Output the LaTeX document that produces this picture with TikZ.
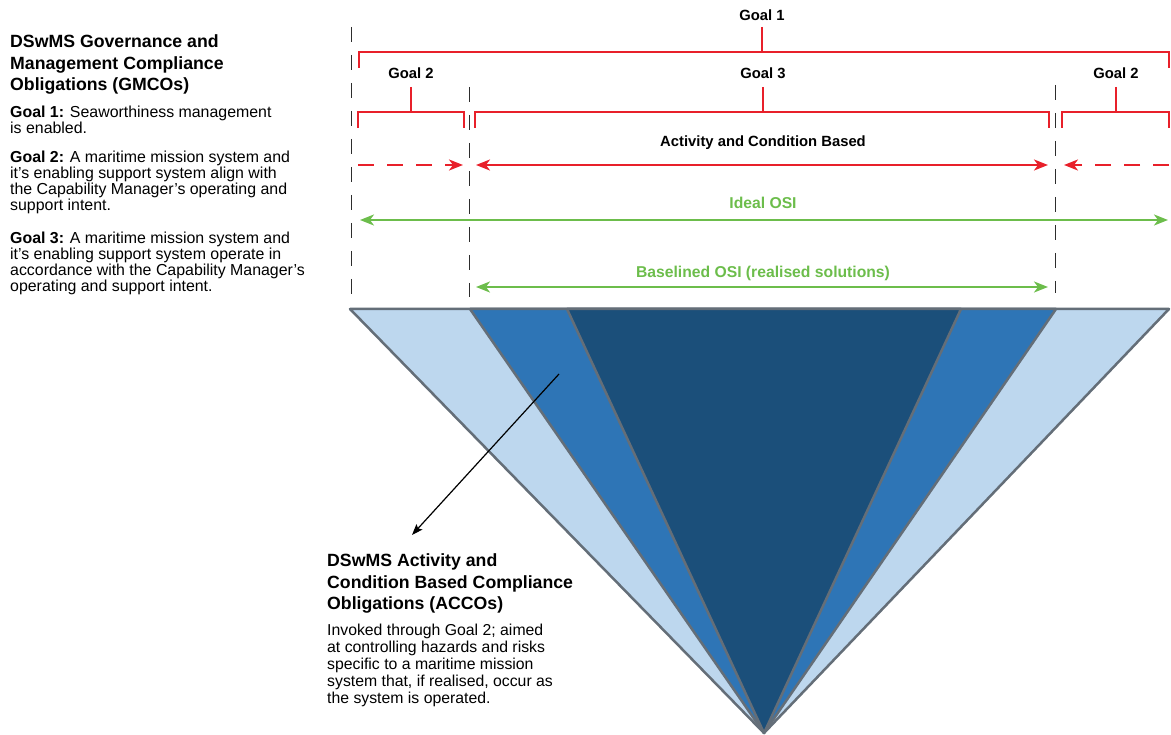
\documentclass[tikz,border=0pt]{standalone}
\usepackage{fontspec}
\setmainfont{Liberation Sans}
\usetikzlibrary{arrows.meta}

\definecolor{goalred}{RGB}{232,32,42}
\definecolor{osigreen}{RGB}{108,189,75}
\definecolor{lightblue}{RGB}{189,215,238}
\definecolor{midblue}{RGB}{46,117,182}
\definecolor{darkblue}{RGB}{27,79,122}
\definecolor{edgegray}{RGB}{100,110,120}
\definecolor{guidegray}{RGB}{45,45,45}

\tikzset{
  headtext/.style={font=\fontsize{17.7}{21.7}\selectfont\bfseries, align=left, anchor=north west, inner sep=0pt},
  bodytext/.style={font=\fontsize{15.9}{16}\selectfont, align=left, anchor=north west, inner sep=0pt},
  goallabel/.style={font=\fontsize{14.8}{16}\selectfont\bfseries, anchor=base, inner sep=0pt},
  osilabel/.style={font=\fontsize{15.7}{17}\selectfont\bfseries, text=osigreen, anchor=base, inner sep=0pt},
  bracket/.style={draw=goalred, line width=2pt},
  redline/.style={draw=goalred, line width=2pt},
  greenline/.style={draw=osigreen, line width=2pt},
  guide/.style={draw=guidegray, line width=1.8pt, dash pattern=on 15pt off 13pt},
  wedge/.style={draw=edgegray, line width=2.5pt, line join=round},
  spantip/.tip={Stealth[length=14pt,width=11pt,inset=4pt]},
}

\begin{document}
\begin{tikzpicture}[x=1pt,y=-1pt]
\useasboundingbox (0,0) rectangle (1171,735);

% ---- inverted triangle of obligations ----
\coordinate (TL) at (350,309);
\coordinate (TR) at (1169,309);
\coordinate (B)  at (764,733);
\coordinate (ma) at (470,309);
\coordinate (md) at (1056,309);
\coordinate (db) at (567,309);
\coordinate (dc) at (961,309);
\filldraw[wedge, fill=lightblue] (TL) -- (TR) -- (B) -- cycle;
\filldraw[wedge, fill=midblue] (ma) -- (md) -- (B) -- cycle;
\filldraw[wedge, fill=darkblue] (db) -- (dc) -- (B) -- cycle;

% ---- dashed guide lines ----
\coordinate (gA1) at (351.5,27);  \coordinate (gA2) at (351.5,300);
\coordinate (gB1) at (469.5,87);  \coordinate (gB2) at (469.5,297);
\coordinate (gC1) at (1055.5,85); \coordinate (gC2) at (1055.5,293);
\draw[guide] (gA1) -- (gA2);
\draw[guide] (gB1) -- (gB2);
\draw[guide] (gC1) -- (gC2);

% ---- goal labels and brackets ----
\node[goallabel] (goalone) at (762,20.3) {Goal 1};
\node[goallabel] (goaltwoL) at (411,78.3) {Goal 2};
\node[goallabel] (goalthree) at (763,78.3) {Goal 3};
\node[goallabel] (goaltwoR) at (1116,78.3) {Goal 2};

\coordinate (s1) at (762,27);   \coordinate (k1) at (762,52);
\coordinate (s2) at (411,87);   \coordinate (k2) at (411,112);
\coordinate (s3) at (763,87);   \coordinate (k3) at (763,112);
\coordinate (s4) at (1116,87);  \coordinate (k4) at (1116,112);
\draw[bracket] (s1) -- (k1);
\draw[bracket] (s2) -- (k2);
\draw[bracket] (s3) -- (k3);
\draw[bracket] (s4) -- (k4);
\draw[bracket] (359,68) -- (359,52) -- (1169,52) -- (1169,68);
\draw[bracket] (358,128) -- (358,112) -- (464,112) -- (464,128);
\draw[bracket] (475,128) -- (475,112) -- (1049,112) -- (1049,128);
\draw[bracket] (1062,128) -- (1062,112) -- (1169,112) -- (1169,128);

% ---- activity and condition based span ----
\node[goallabel] (acb) at (763,147) {Activity and Condition Based};
\coordinate (r1) at (358,165);  \coordinate (r2) at (463,165);
\coordinate (r3) at (476,165);  \coordinate (r4) at (1048,165);
\coordinate (r5) at (1169,165); \coordinate (r6) at (1064,165);
\draw[redline, dash pattern=on 16pt off 13pt, -spantip] (r1) -- (r2);
\draw[redline, spantip-spantip] (r3) -- (r4);
\draw[redline, dash pattern=on 16pt off 13pt, -spantip] (r5) -- (r6);

% ---- operating and support intent spans ----
\node[osilabel] (ideal) at (763,208.6) {Ideal OSI};
\coordinate (i1) at (360,220);  \coordinate (i2) at (1168,220);
\draw[greenline, spantip-spantip] (i1) -- (i2);

\node[osilabel] (baseline) at (763,277.3) {Baselined OSI (realised solutions)};
\coordinate (b1) at (476,287);  \coordinate (b2) at (1048,287);
\draw[greenline, spantip-spantip] (b1) -- (b2);

% ---- governance obligations text ----
\node[headtext] (gmco) at (10,34.5) {DSwMS Governance and\\Management Compliance\\Obligations (GMCOs)};
\node[bodytext] (goal1txt) at (10,106) {\textbf{Goal 1:} Seaworthiness management\\is enabled.};
\node[bodytext] (goal2txt) at (10,150.5) {\textbf{Goal 2:} A maritime mission system and\\it’s enabling support system align with\\the Capability Manager’s operating and\\support intent.};
\node[bodytext] (goal3txt) at (10,232.2) {\textbf{Goal 3:} A maritime mission system and\\it’s enabling support system operate in\\accordance with the Capability Manager’s\\operating and support intent.};

% ---- activity and condition based obligations text ----
\node[headtext] (acco) at (327,553.5) {DSwMS Activity and\\Condition Based Compliance\\Obligations (ACCOs)};
\node[bodytext, font=\fontsize{15.8}{17}\selectfont] (accotxt) at (327,623.5) {Invoked through Goal 2; aimed\\at controlling hazards and risks\\specific to a maritime mission\\system that, if realised, occur as\\the system is operated.};

\coordinate (ptr) at (559,374);
\coordinate (ptrend) at (412,535);
\draw[line width=1.2pt, -{Stealth[length=11pt,width=8pt,inset=2pt]}] (ptr) -- (ptrend);
\end{tikzpicture}
\end{document}
